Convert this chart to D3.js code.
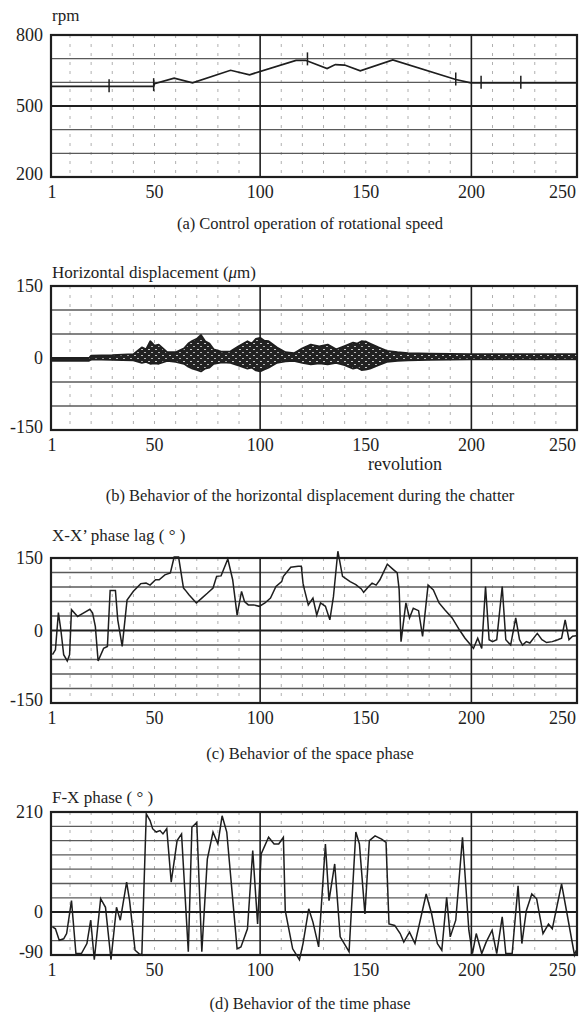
<!DOCTYPE html>
<html><head><meta charset="utf-8">
<script src="https://cdn.jsdelivr.net/npm/d3@7"></script>
<style>
html,body{margin:0;padding:0;background:#fff;}
</style></head>
<body><svg id="chart" width="582" height="1012" font-family="'Liberation Serif','Times New Roman',Times,serif"></svg>
<script>
// ---------- data ----------
const revTicks = [1, 50, 100, 150, 200, 250];
const revMinorGrid = [10,20,30,40,50,60,70,80,90,110,120,130,140,150,160,170,180,190,210,220,230,240];
const revMajorGrid = [100, 200];

// (a) rotational speed
const rpmTicks = [200, 500, 800];
const rpmGrid = [300, 400, 600, 700];
const rpmRev = [1, 49.6, 50, 59.3, 68, 86, 95, 117, 121.5, 131.7, 135.6, 140, 147.4, 162.8, 192.6, 199.7, 250];
const rpmVal = [583, 583, 594, 618, 598, 651, 632, 693, 693, 658, 675, 673, 649, 695, 612, 598, 598];
const rpmMarkRev = [28.5, 49.6, 122.4, 192.6, 204.6, 223.4];
const rpmMarkVal = [583, 588, 697, 612, 598, 598];

// (b) horizontal displacement envelope (um)
const dispTicks = [-150, 0, 150];
const dispGrid = [-100, -50, 50, 100];
const dispRev = [1, 19, 20, 30, 40, 44, 46, 48, 50, 52, 56, 60, 64, 66, 68, 70, 72, 74, 76, 78, 82, 86, 90, 94, 96, 98, 100, 102, 104, 108, 112, 116, 120, 124, 128, 132, 136, 140, 144, 146, 148, 150, 152, 156, 160, 165, 170, 180, 200, 220, 250];
const dispUpper = [0, 0, 5, 6, 8, 22, 18, 35, 26, 28, 12, 12, 20, 30, 36, 40, 48, 35, 30, 18, 13, 14, 25, 35, 30, 40, 42, 36, 35, 22, 12, 10, 20, 28, 24, 28, 18, 25, 32, 30, 35, 34, 30, 22, 15, 12, 10, 9, 8, 8, 8];
const dispLower = [-6, -6, -3, -4, -5, -10, -8, -12, -11, -12, -6, -8, -12, -18, -22, -25, -28, -22, -20, -12, -9, -10, -16, -22, -20, -26, -28, -24, -20, -10, -7, -6, -10, -13, -11, -13, -10, -15, -22, -20, -25, -24, -22, -15, -8, -6, -5, -4, -3, -3, -3];

// (c) X-X' phase lag (deg)
const lagTicks = [-150, 0, 150];
const lagGrid = [-120, -90, -60, -30, 30, 60, 90, 120];
const lagRev = [1.7, 3.1, 4.5, 5.7, 7, 8.7, 9.8, 10.7, 13.6, 16.3, 19.4, 20.7, 22, 23.3, 25.9, 27.7, 29, 31.5, 32.6, 34.7, 37, 40, 43.5, 46, 47.9, 50.5, 52.2, 54.9, 57.5, 59.3, 61.4, 63.7, 64.5, 66.3, 69.8, 72.4, 75, 77.7, 79.4, 81.5, 84.7, 87, 89.1, 91.2, 92.6, 94.4, 97, 99.6, 102.3, 104.9, 107.5, 110.2, 111, 114.5, 118, 119.5, 120.3, 121, 122.8, 125, 126.8, 128.6, 130.9, 133, 134.7, 136.8, 139, 142.6, 145.3, 147.9, 149, 151.4, 153, 154.9, 156.7, 160.2, 162.8, 164.9, 165.8, 166.7, 169, 170.7, 172.5, 175, 176.9, 179.5, 182, 184.7, 187.4, 190.9, 194.4, 197, 199.7, 201, 203, 204.9, 206.7, 208.4, 210, 212, 214.6, 216.3, 218.6, 221, 222.8, 224.2, 226, 227.7, 231.2, 233.4, 235.6, 238.3, 240.9, 242.7, 244.4, 246.2, 247.9, 249.7];
const lagVal = [-50, -40, 37, 0, -50, -63, -50, 43, 29, 36, 44, 36, 8, -63, -37, -33, 83, 83, 22, -33, 63, 81, 97, 98, 94, 105, 105, 115, 119, 152, 152, 88, 84, 74, 57, 67, 77, 88, 112, 113, 148, 105, 32, 81, 60, 53, 53, 50, 57, 67, 91, 101, 112, 131, 133, 133, 98, 84, 53, 67, 32, 57, 50, 22, 70, 164, 112, 101, 95, 86, 79, 91, 98, 94, 105, 137, 127, 119, 85, -23, 57, 26, 46, 41, -12, 94, 84, 57, 43, 26, 1, -16, -30, -37, -16, -37, 91, -19, -23, -19, 91, -19, -30, 26, -19, -30, -23, -26, -6, -19, -25, -23, -19, -16, 22, -19, -12, -11];

// (d) F-X phase (deg)
const fxTicks = [-90, 0, 210];
const fxGrid = [-60, -30, 30, 60, 90, 120, 150, 180];
const fxRev = [1.7, 3.1, 4.9, 7, 8.4, 10.7, 12.8, 15.4, 18, 19.8, 21.5, 24.5, 26.8, 29.4, 32, 33.8, 36.8, 38.2, 40.8, 42.6, 44, 46.1, 47.9, 49.1, 50.8, 52.6, 54, 55.8, 57.9, 60.7, 62.8, 66, 67.7, 70, 72.4, 75, 77.7, 80, 82, 84.2, 89.1, 90.9, 94, 96.5, 98.8, 100.5, 104, 106.6, 108.8, 111, 111.9, 115.4, 118.6, 120.3, 123, 125, 127.7, 130.9, 132.6, 135.3, 137.9, 142.1, 145.3, 147, 149.6, 151.7, 154.4, 157.5, 159.6, 161, 163.7, 166.3, 168, 170.7, 173.3, 178.6, 181.2, 183.9, 186, 188.3, 190, 192.6, 195.8, 198.8, 200.5, 202.3, 204.9, 207, 209.8, 212, 214.6, 216.3, 219.3, 222.1, 223.9, 226, 228.6, 230.9, 233.9, 236.5, 238.3, 242.7, 245.3, 248.8, 249.7];
const fxVal = [-31, -35, -59, -56, -45, 24, -87, -87, -66, -17, -100, 28, 10, -100, 10, -17, 63, 24, -80, -87, -90, 206, 192, 175, 168, 171, 164, 175, 63, 150, 164, -83, 178, 188, -83, 111, 168, 143, 202, 168, -77, -73, -35, 129, -25, 122, 157, 143, 143, 157, 3, -77, -100, -66, 7, -21, -73, 143, 24, 101, -52, -83, 168, 143, -4, 150, 160, 153, 146, -25, -28, -45, -63, -42, -66, 38, -4, -66, -80, 31, -52, -17, 157, -38, -87, -45, -87, -63, -38, -87, -10, -87, -87, 55, -66, 3, 38, 28, -45, -25, -35, 59, -4, -90, -80];

// ---------- layout ----------
const svg = d3.select("#chart");
const X0 = 51, X1 = 577;
const x = d3.scaleLinear().domain([1, 250]).range([X0, X1]);
const ink = "#1e1e1e";

const defs = svg.append("defs");
const pat = defs.append("pattern").attr("id", "chatter").attr("patternUnits", "userSpaceOnUse")
  .attr("width", 7).attr("height", 6);
pat.append("rect").attr("width", 7).attr("height", 6).attr("fill", "#222");
pat.append("rect").attr("x", 1).attr("y", 1).attr("width", 2).attr("height", 1).attr("fill", "#c8c8c8");
pat.append("rect").attr("x", 4).attr("y", 4).attr("width", 2).attr("height", 1).attr("fill", "#b5b5b5");

const panels = [
  {top:35, bottom:177, domain:[200,800], ticks:rpmTicks, grid:rpmGrid, bold:500, title:"rpm", titleY:15, caption:"(a) Control operation of rotational speed", capY:223},
  {top:286, bottom:430, domain:[-150,150], ticks:dispTicks, grid:dispGrid, bold:0, title:"Horizontal displacement (", unit:"\u03bc", titleTail:"m)", titleY:272, caption:"(b) Behavior of the horizontal displacement during the chatter", capY:495, xlabel:"revolution"},
  {top:558, bottom:703, domain:[-150,150], ticks:lagTicks, grid:lagGrid, bold:0, title:"X-X\u2019 phase lag ( \u00b0 )", titleY:535, caption:"(c) Behavior of the space phase", capY:753},
  {top:812, bottom:955, domain:[-90,210], ticks:fxTicks, grid:fxGrid, bold:0, title:"F-X  phase ( \u00b0 )", titleY:797, caption:"(d) Behavior of the time phase", capY:1003}
];

panels.forEach((p, i) => {
  const y = d3.scaleLinear().domain(p.domain).range([p.bottom, p.top]);
  p.y = y;
  const g = svg.append("g");
  g.selectAll(".mv").data(revMinorGrid).join("line")
    .attr("x1", d => x(d)).attr("x2", d => x(d))
    .attr("y1", p.top).attr("y2", p.bottom)
    .attr("stroke", "#b0b0b0").attr("stroke-width", 1).attr("stroke-dasharray", "3,6");
  g.selectAll(".hg").data(p.grid).join("line")
    .attr("x1", X0).attr("x2", X1)
    .attr("y1", d => y(d)).attr("y2", d => y(d))
    .attr("stroke", "#5a5a5a").attr("stroke-width", 1.3);
  g.append("line").attr("x1", X0).attr("x2", X1)
    .attr("y1", y(p.bold)).attr("y2", y(p.bold))
    .attr("stroke", ink).attr("stroke-width", 2);
  g.selectAll(".jv").data(revMajorGrid).join("line")
    .attr("x1", d => x(d)).attr("x2", d => x(d))
    .attr("y1", p.top).attr("y2", p.bottom)
    .attr("stroke", ink).attr("stroke-width", 1.6);
  g.append("rect").attr("x", X0).attr("y", p.top)
    .attr("width", X1 - X0).attr("height", p.bottom - p.top)
    .attr("fill", "none").attr("stroke", ink).attr("stroke-width", 2.2);
  g.selectAll(".yl").data(p.ticks).join("text")
    .attr("x", 43).attr("y", d => y(d) + (d === p.domain[0] ? -3 : 0))
    .attr("text-anchor", "end").attr("dominant-baseline", "central")
    .attr("font-size", 18).attr("fill", ink).text(d => d);
  g.selectAll(".xl").data(revTicks).join("text")
    .attr("x", d => d === 250 ? X1 - 1 : x(d) + (d === 1 ? 1 : 0))
    .attr("y", p.bottom + 15)
    .attr("text-anchor", d => d === 250 ? "end" : "middle")
    .attr("dominant-baseline", "central")
    .attr("font-size", 18).attr("fill", ink).text(d => d);
  const t = g.append("text").attr("x", 52).attr("y", p.titleY).attr("dominant-baseline", "central")
    .attr("font-size", 17).attr("fill", ink).text(p.title);
  if (p.unit) {
    t.append("tspan").attr("font-style", "italic").text(p.unit);
    t.append("tspan").text(p.titleTail);
  }
  g.append("text").attr("x", 310).attr("y", p.capY).attr("text-anchor", "middle")
    .attr("dominant-baseline", "central").attr("font-size", 16.5).attr("fill", ink).text(p.caption);
  if (p.xlabel) {
    g.append("text").attr("x", 405).attr("y", p.bottom + 34).attr("text-anchor", "middle")
      .attr("dominant-baseline", "central").attr("font-size", 18).attr("fill", ink).text(p.xlabel);
  }
});

// (a) rpm line
{
  const y = panels[0].y;
  svg.append("path").datum(rpmRev.map((r, i) => [r, rpmVal[i]]))
    .attr("d", d3.line().x(d => x(d[0])).y(d => y(d[1])))
    .attr("fill", "none").attr("stroke", ink).attr("stroke-width", 1.7);
  svg.selectAll(".mk").data(rpmMarkRev.map((r, i) => [r, rpmMarkVal[i]])).join("line")
    .attr("x1", d => x(d[0])).attr("x2", d => x(d[0]))
    .attr("y1", d => y(d[1]) - 7).attr("y2", d => y(d[1]) + 6)
    .attr("stroke", ink).attr("stroke-width", 1.5);
}
// (b) displacement band
{
  const y = panels[1].y;
  const pts = dispRev.map((r, i) => [r, dispUpper[i], dispLower[i]]);
  svg.append("path").datum(pts)
    .attr("d", d3.area().x(d => x(d[0])).y0(d => y(d[2])).y1(d => y(d[1])))
    .attr("fill", "url(#chatter)").attr("stroke", ink).attr("stroke-width", 1.8).attr("stroke-linejoin", "round");
}
// (c) phase lag
{
  const y = panels[2].y;
  svg.append("path").datum(lagRev.map((r, i) => [r, lagVal[i]]))
    .attr("d", d3.line().x(d => x(d[0])).y(d => y(d[1])))
    .attr("fill", "none").attr("stroke", ink).attr("stroke-width", 1.5);
}
// (d) F-X phase
{
  const y = panels[3].y;
  svg.append("path").datum(fxRev.map((r, i) => [r, fxVal[i]]))
    .attr("d", d3.line().x(d => x(d[0])).y(d => y(d[1])))
    .attr("fill", "none").attr("stroke", ink).attr("stroke-width", 1.5);
}
</script></body></html>
